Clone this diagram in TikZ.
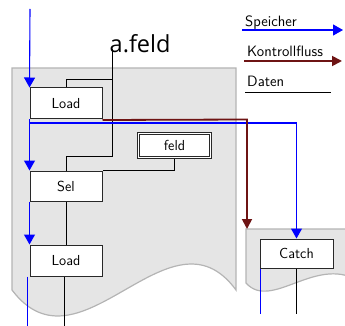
\documentclass[tikz,border=0pt]{standalone}
\usepackage{fontspec}
\newfontfamily\afont{Open Sans}
\usetikzlibrary{arrows.meta}
\definecolor{memblue}{RGB}{0,0,255}
\definecolor{ctrlred}{RGB}{110,20,20}
\definecolor{pagefill}{RGB}{229,229,229}
\definecolor{pageline}{RGB}{180,180,180}
\definecolor{boxline}{RGB}{40,40,40}
\tikzset{
  page/.style={fill=pagefill,draw=pageline,line width=1.2pt},
  stepbox/.style={draw=boxline,fill=white,line width=1pt,font=\sffamily\fontsize{14.5}{16}\selectfont,inner sep=0pt,minimum width=72pt},
  lbl/.style={font=\sffamily\fontsize{15}{17}\selectfont,inner sep=0pt},
  mem/.style={draw=memblue,line width=1.1pt,-{Triangle[width=11pt,length=10pt]}},
  memline/.style={draw=memblue,line width=1.1pt},
  ctrl/.style={draw=ctrlred,line width=1.8pt,-{Triangle[width=10pt,length=10pt]}},
  data/.style={draw=black,line width=1pt},
}
\begin{document}
\begin{tikzpicture}[x=1pt,y=-1pt]
\useasboundingbox (0,0) rectangle (345,326);
\clip (0,0) rectangle (345,326);
% pages
\path[page] (12,68) -- (236,68) -- (236,290)
  .. controls (170,200) and (80,380) .. (12,290) -- cycle;
\path[page] (246,229) -- (362,229) -- (362,283)
  .. controls (318,252) and (272,312) .. (246,283) -- cycle;
% boxes
\node[stepbox,minimum height=31pt] (load1) at (66,103.5) {Load};
\node[stepbox,minimum height=30pt] (sel) at (66,186) {Sel};
\node[stepbox,minimum height=31pt] (load2) at (66,260.5) {Load};
\node[stepbox,minimum width=73pt,minimum height=29pt] (catch) at (296.5,253.5) {Catch};
\node[draw=boxline,line width=0.9pt,fill=white,
      font=\sffamily\fontsize{14.5}{16}\selectfont,inner sep=0pt,
      minimum width=74.5pt,minimum height=26.5pt] (feld) at (174.5,145.5) {feld};
\draw[draw=boxline,line width=0.9pt] ([shift={(2.6pt,2.6pt)}]feld.south west) rectangle ([shift={(-2.6pt,-2.6pt)}]feld.north east);
\node[anchor=base west,inner sep=0pt,font=\afont\fontsize{23.5}{28}\selectfont] (afeld) at (109.5,53) {a.feld};
\coordinate (afoot) at (112,49);
\coordinate (jtop) at (112,80);
\coordinate (jbot) at (112,156);
\coordinate (memsplit) at (30,123);
\coordinate (ctrlturn) at (247,119.5);
\coordinate (ctrlend) at (247,229);
% data lines
\draw[data] (afoot) -- (jbot) -| (sel.north);
\draw[data] (jtop) -| (load1.north);
\draw[data] (feld.south) |- (sel.north east);
\draw[data] (sel.south) -- (load2.north);
\draw[data] ([xshift=-2pt]load2.south) -- ++(0,50);
\draw[data] (catch.south) -- ++(0,45);
% memory
\draw[mem] (30,9) -- (load1.north west);
\draw[mem] (load1.south west) -- (sel.north west);
\draw[mem] (sel.south west) -- (load2.north west);
\draw[memline] ([xshift=-2pt]load2.south west) -- ++(0,50);
\draw[mem] (memsplit) -| (catch.north);
\draw[memline] ([xshift=1pt]catch.south west) -- ++(0,45);
% control
\draw[ctrl] ([yshift=-0.5pt]load1.south east) -- (ctrlturn) -- (ctrlend);
% redraw boxes on top
\node[stepbox,minimum height=31pt] at (load1) {Load};
\node[stepbox,minimum height=30pt] at (sel) {Sel};
\node[stepbox,minimum height=31pt] at (load2) {Load};
\node[stepbox,minimum width=73pt,minimum height=29pt] at (catch) {Catch};
% legend
\node[lbl,anchor=base west] (lsp) at (245,27) {Speicher};
\node[lbl,anchor=base west] (lkf) at (247,57) {Kontrollfluss};
\node[lbl,anchor=base west] (lda) at (247,87) {Daten};
\draw[mem] ([shift={(-3pt,-3pt)}]lsp.base west) -- ++(101,0);
\draw[ctrl] ([shift={(-3pt,-4pt)}]lkf.base west) -- ++(98,0);
\draw[data] ([shift={(-2pt,-6pt)}]lda.base west) -- ++(86,0);
\end{tikzpicture}
\end{document}
